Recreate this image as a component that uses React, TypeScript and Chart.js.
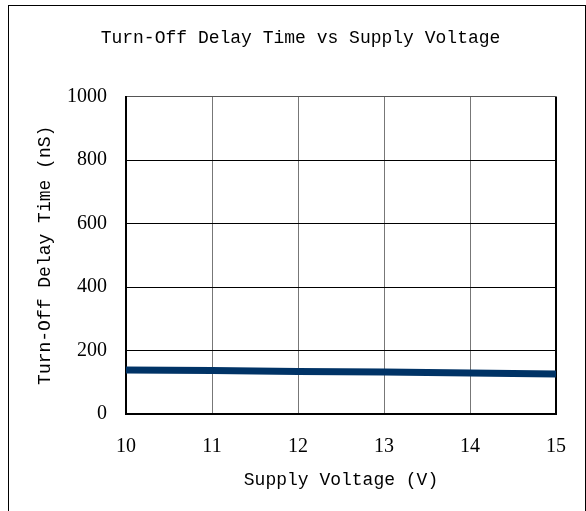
import React, { useEffect, useRef } from "react";
import { Chart, registerables } from "chart.js";

Chart.register(...registerables);

const chartTitle = "Turn-Off Delay Time vs Supply Voltage";
const xAxisTitle = "Supply Voltage (V)";
const yAxisTitle = "Turn-Off Delay Time (nS)";
const voltages = [10, 11, 12, 13, 14, 15];
const delayTimes = [139, 137, 134, 132, 129, 126];
const xMin = 10;
const xMax = 15;
const yMin = 0;
const yMax = 1000;
const yStep = 200;

export default function App() {
  const ref = useRef<HTMLCanvasElement | null>(null);

  useEffect(() => {
    if (!ref.current) return;
    const mono = "'Liberation Mono', 'DejaVu Sans Mono', monospace";
    const serif = "'Liberation Serif', 'DejaVu Serif', serif";
    const chart = new Chart(ref.current, {
      type: "line",
      data: {
        datasets: [
          {
            data: voltages.map((v, i) => ({ x: v, y: delayTimes[i] })),
            borderColor: "#003366",
            borderWidth: 7,
            pointRadius: 0,
            tension: 0,
            fill: false,
          },
        ],
      },
      options: {
        responsive: false,
        animation: false,
        layout: { padding: { left: 36, right: 29, top: 0, bottom: 0 } },
        plugins: {
          legend: { display: false },
          tooltip: { enabled: false },
          title: {
            display: true,
            text: chartTitle,
            color: "#000",
            font: { family: mono, size: 18, weight: "normal" },
            padding: { top: 21, bottom: 48 },
          },
        },
        scales: {
          x: {
            type: "linear",
            min: xMin,
            max: xMax,
            afterFit: (s: any) => {
              s.height = 97;
              s.paddingLeft = 0;
              s.paddingRight = 0;
            },
            ticks: {
              stepSize: 1,
              color: "#000",
              padding: 21,
              maxRotation: 0,
              font: { family: serif, size: 20 },
            },
            grid: {
              drawTicks: false,
              color: (c: any) => (c.tick && c.tick.value === xMax ? "#000" : "#777"),
              lineWidth: (c: any) => (c.tick && c.tick.value === xMax ? 2 : 1),
            },
            border: { color: "#000", width: 2 },
            title: {
              display: true,
              text: xAxisTitle,
              color: "#000",
              font: { family: mono, size: 18 },
              padding: { top: 0, bottom: 20 },
            },
          },
          y: {
            min: yMin,
            max: yMax,
            afterFit: (s: any) => {
              s.width = 81;
            },
            ticks: {
              stepSize: yStep,
              color: "#000",
              padding: 19,
              font: { family: serif, size: 20 },
              callback: (v: any) => String(v),
            },
            grid: {
              drawTicks: false,
              color: (c: any) => (c.tick && c.tick.value === yMax ? "#555" : "#000"),
            },
            border: { color: "#000", width: 2 },
            title: {
              display: true,
              text: yAxisTitle,
              color: "#000",
              font: { family: mono, size: 18 },
              padding: { top: -10.8, bottom: 0 },
            },
          },
        },
      },
    } as any);
    return () => chart.destroy();
  }, []);

  return (
    <div
      style={{
        position: "fixed",
        left: 8,
        top: 5,
        width: 576,
        height: 510,
        border: "1px solid #000",
        background: "#fff",
      }}
    >
      <canvas ref={ref} width={576} height={505} style={{ display: "block" }} />
    </div>
  );
}
